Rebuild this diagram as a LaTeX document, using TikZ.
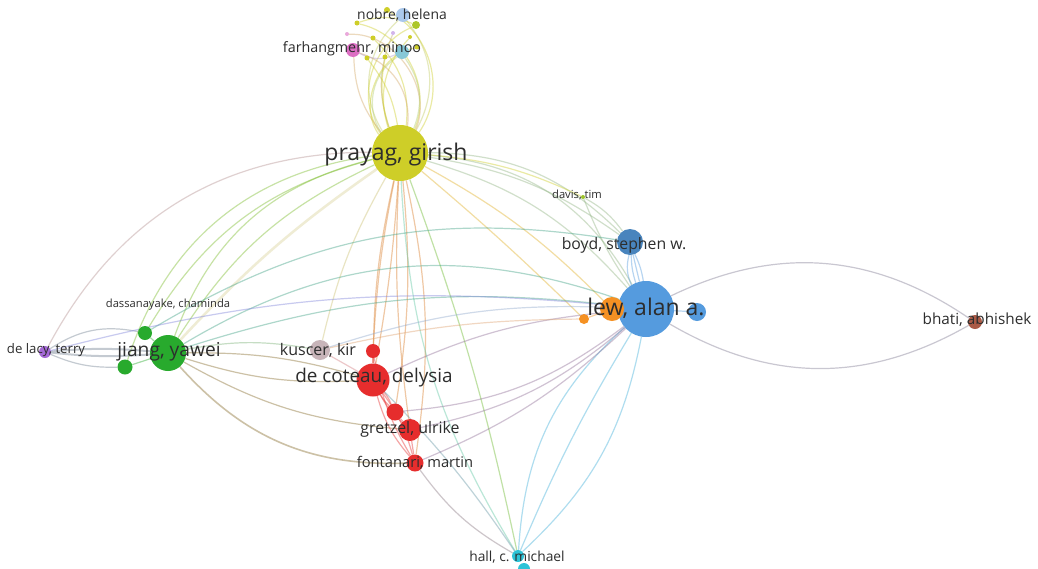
\documentclass[tikz,border=0pt]{standalone}
\usepackage{fontspec}
\setmainfont{Open Sans}
\usetikzlibrary{positioning,backgrounds}

\definecolor{yel}{RGB}{206,206,40}
\definecolor{blu}{RGB}{85,155,222}
\definecolor{grn}{RGB}{40,170,45}
\definecolor{rd}{RGB}{230,45,45}
\definecolor{pur}{RGB}{165,105,215}
\definecolor{org}{RGB}{245,145,35}
\definecolor{brn}{RGB}{170,90,70}
\definecolor{cyn}{RGB}{45,195,215}
\definecolor{gry}{RGB}{200,180,185}
\definecolor{pnk}{RGB}{220,110,195}
\definecolor{lblu}{RGB}{170,200,235}
\definecolor{lcyn}{RGB}{135,200,215}
\definecolor{txt}{RGB}{45,45,45}

\tikzset{
    author/.style = {
        shape=circle,
        inner sep=0pt,
        minimum size=#1
    },
    lbl/.style = {
        text=txt,
        inner sep=0pt,
        font=\fontsize{#1}{#1}\selectfont
    },
    link/.style = {
        line width=1.2pt,
        opacity=0.42
    },
}

\begin{document}
\begin{tikzpicture}[x=1pt, y=-1pt]
                \useasboundingbox (0,0) rectangle (1038,568);

                % authors
                \node[author=56pt, fill=yel] (prayag) at (400,153) {};
                \node[author=56pt, fill=blu] (lew) at (646,309) {};
                \node[author=18pt, fill=blu] (lewb) at (697,312) {};
                \node[author=26pt, fill=blu!85!black] (boyd) at (630,242) {};
                \node[author=24pt, fill=org] (orga) at (612,309) {};
                \node[author=10pt, fill=org] (orgb) at (584,319) {};
                \node[author=4pt, fill=yel!70!grn] (davis) at (583,197) {};
                \node[author=14pt, fill=brn] (bhati) at (975,322) {};
                \node[author=12pt, fill=cyn] (hall) at (518,556) {};
                \node[author=12pt, fill=cyn] (hallb) at (524,569) {};
                \node[author=36pt, fill=grn] (jiang) at (168,353) {};
                \node[author=14pt, fill=grn] (jianga) at (145,333) {};
                \node[author=15pt, fill=grn] (jiangb) at (125,367) {};
                \node[author=12pt, fill=pur] (delacy) at (45,352) {};
                \node[author=20pt, fill=gry] (kuscer) at (320,350) {};
                \node[author=14pt, fill=rd] (reda) at (373,351) {};
                \node[author=33pt, fill=rd] (decoteau) at (373,380) {};
                \node[author=17pt, fill=rd] (redb) at (395,412) {};
                \node[author=22pt, fill=rd] (gretzel) at (410,430) {};
                \node[author=17pt, fill=rd] (fontanari) at (415,463) {};
                \node[author=14pt, fill=lblu] (nobre) at (403,15) {};
                \node[author=14pt, fill=pnk] (farhang) at (353,50) {};
                \node[author=14pt, fill=lcyn] (topc) at (402,52) {};
                \node[author=6pt, fill=yel] (topa) at (387,10) {};
                \node[author=8pt, fill=yel!80!grn] (topb) at (416,25) {};
                \node[author=5pt, fill=yel] (topd) at (357,23) {};
                \node[author=4pt, fill=pnk!60] (tope) at (347,34) {};
                \node[author=5pt, fill=yel] (topf) at (373,38) {};
                \node[author=4pt, fill=pur!50] (topg) at (393,33) {};
                \node[author=5pt, fill=yel] (toph) at (367,58) {};
                \node[author=5pt, fill=yel] (topi) at (385,57) {};
                \node[author=5pt, fill=yel] (topj) at (417,47) {};
                \node[author=4pt, fill=yel] (topk) at (410,37) {};

                % labels
                \node[lbl=23] (prayag-t) at (396,155) {prayag, girish};
                \node[lbl=23] (lew-t) at (646,308) {lew, alan a.};
                \node[lbl=15.8] (boyd-t) at (624,245) {boyd, stephen w.};
                \node[lbl=11.2] (davis-t) at (577,195) {davis, tim};
                \node[lbl=15.3] (bhati-t) at (977,320) {bhati, abhishek};
                \node[lbl=13.8] (hall-t) at (517,557) {hall, c. michael};
                \node[lbl=19.2] (jiang-t) at (169,352) {jiang, yawei};
                \node[lbl=11.2] (dassa-t) at (168,305) {dassanayake, chaminda};
                \node[lbl=13.2] (delacy-t) at (46,350) {de lacy, terry};
                \node[lbl=16] (kuscer-t) at (318,350) {kuscer, kir};
                \node[lbl=18.9] (decoteau-t) at (374,378) {de coteau, delysia};
                \node[lbl=15.9] (gretzel-t) at (410,429) {gretzel, ulrike};
                \node[lbl=14.7] (fontanari-t) at (415,463) {fontanari, martin};
                \node[lbl=13.9] (nobre-t) at (402,15) {nobre, helena};
                \node[lbl=14.3] (farhang-t) at (352,49) {farhangmehr, minoo};

                \begin{scope}[on background layer]
                \fill[white] (0,0) rectangle (1038,568);

                % prayag to the top group
                \path[draw, link, color=yel!70!lblu] (prayag) to[bend left=40] (nobre);
                \path[draw, link, color=yel!70!lblu] (prayag) to[bend right=34] (nobre);
                \path[draw, link, color=yel] (prayag) to[bend right=48] (topa);
                \path[draw, link, color=yel] (prayag) to[bend left=52] (topb);
                \path[draw, link, color=yel] (prayag) to[bend right=50] (topd);
                \path[draw, link, color=yel!60!pnk] (prayag) to[bend right=58] (tope);
                \path[draw, link, color=yel] (prayag) to[bend right=26] (topf);
                \path[draw, link, color=yel!60!pur] (prayag) to[bend left=20] (topg);
                \path[draw, link, color=yel!60!pnk] (prayag) to[bend right=40] (farhang);
                \path[draw, link, color=yel!60!pnk] (prayag) to[bend left=18] (farhang);
                \path[draw, link, color=yel!60!lcyn] (prayag) to[bend left=44] (topc);
                \path[draw, link, color=yel!60!lcyn] (prayag) to[bend right=28] (topc);
                \path[draw, link, color=yel] (prayag) to[bend right=14] (toph);
                \path[draw, link, color=yel] (prayag) to[bend left=14] (topi);
                \path[draw, link, color=yel] (prayag) to[bend left=58] (topj);
                \path[draw, link, color=yel] (prayag) to[bend left=30] (topk);
                \path[draw, link, color=pnk!50!lcyn] (farhang) to[bend right=25] (topc);
                \path[draw, link, color=yel] (topd) to[bend left=20] (topb);

                % prayag to the rest
                \path[draw, link, color=yel!50!grn] (prayag) to[bend right=28] (jiang);
                \path[draw, link, color=yel!50!grn] (prayag) to[bend right=16] (jiang);
                \path[draw, link, line width=2.5pt, opacity=0.3, color=yel!50!gry] (prayag) to[bend right=6] (jiang);
                \path[draw, link, color=yel!50!grn] (prayag) to[bend right=22] (jianga);
                \path[draw, link, color=yel!50!grn] (prayag) to[bend right=32] (jiangb);
                \path[draw, link, color=yel!40!pur] (prayag) to[bend right=31] (delacy);
                \path[draw, link, color=yel!50!gry] (prayag) to[bend right=8] (kuscer);
                \path[draw, link, color=yel!50!rd] (prayag) to[bend right=4] (reda);
                \path[draw, link, color=yel!50!rd] (prayag) to[bend left=3] (decoteau);
                \path[draw, link, color=yel!50!rd] (prayag) to[bend right=6] (decoteau);
                \path[draw, link, color=yel!50!rd] (prayag) to[bend left=7] (redb);
                \path[draw, link, color=yel!50!rd] (prayag) to[bend right=5] (gretzel);
                \path[draw, link, color=yel!50!rd] (prayag) to[bend left=10] (fontanari);
                \path[draw, link, color=yel!50!blu] (prayag) to[bend left=22] (boyd);
                \path[draw, link, color=yel!50!blu] (prayag) to[bend left=13] (boyd);
                \path[draw, link, color=yel!50!blu] (prayag) to[bend left=16] (lew);
                \path[draw, link, color=yel!50!blu] (prayag) to[bend left=28] (lew);
                \path[draw, link, color=yel!50!org] (prayag) to[bend left=8] (orga);
                \path[draw, link, color=yel!50!org] (prayag) to[bend left=2] (orgb);
                \path[draw, link, color=yel] (prayag) to[bend left=10] (davis);
                \path[draw, link, color=yel!40!grn] (prayag) to[bend left=4] (hall);
                \path[draw, link, color=yel!30!cyn] (prayag) to[bend right=14] (hall);

                % boyd and lew
                \path[draw, link, color=blu] (boyd) to[bend left=8] (lew);
                \path[draw, link, color=blu] (boyd) -- (lew);
                \path[draw, link, color=blu] (boyd) to[bend right=8] (lew);
                \path[draw, link, color=blu] (boyd) to[bend right=18] (lew);
                \path[draw, link, color=yel!50!blu] (davis) to[bend left=12] (boyd);
                \path[draw, link, color=yel!50!blu] (davis) to[bend right=6] (lew);
                \path[draw, link, color=blu] (lew) -- (lewb);
                \path[draw, link, color=blu!50!brn] (lew) to[bend left=30] (bhati);
                \path[draw, link, color=blu!50!brn] (lew) to[bend right=30] (bhati);
                \path[draw, link, color=blu!50!cyn] (lew) to[bend right=22] (hall);
                \path[draw, link, color=blu!50!cyn] (lew) to[bend left=18] (hall);
                \path[draw, link, color=blu!50!cyn] (lew) to[bend right=4] (hall);
                \path[draw, link, color=org] (orgb) -- (orga);
                \path[draw, link, color=org!50!blu] (orga) -- (lew);

                % jiang and de lacy
                \path[draw, link, line width=2pt, color=grn!40!pur] (jiang) to[bend right=5] (delacy);
                \path[draw, link, line width=2pt, color=grn!40!pur] (jiang) to[bend left=5] (delacy);
                \path[draw, link, color=grn!40!pur] (jianga) to[bend right=22] (delacy);
                \path[draw, link, color=grn!40!pur] (jiangb) to[bend left=12] (delacy);
                \path[draw, link, color=grn] (jiang) -- (jianga);
                \path[draw, link, color=grn] (jiang) -- (jiangb);
                \path[draw, link, color=grn!50!gry] (jiang) to[bend left=10] (kuscer);
                \path[draw, link, color=grn!50!rd] (jiang) to[bend left=8] (decoteau);
                \path[draw, link, color=grn!50!rd] (jiang) to[bend right=10] (decoteau);
                \path[draw, link, color=grn!50!rd] (jiang) to[bend right=12] (gretzel);
                \path[draw, link, line width=1.6pt, color=grn!50!rd] (jiang) to[bend right=25] (fontanari);
                \path[draw, link, color=grn!50!blu] (jiang) to[bend left=25] (lew);
                \path[draw, link, color=grn!50!blu] (jiang) to[bend left=12] (lew);
                \path[draw, link, color=grn!50!blu] (jianga) to[bend left=20] (boyd);
                \path[draw, link, color=pur!50!blu] (delacy) to[bend left=10] (lew);

                % red group
                \path[draw, link, color=rd] (reda) -- (decoteau);
                \path[draw, link, color=rd] (decoteau) to[bend left=8] (redb);
                \path[draw, link, color=rd] (decoteau) to[bend right=8] (redb);
                \path[draw, link, color=rd] (redb) -- (gretzel);
                \path[draw, link, color=rd] (decoteau) to[bend right=10] (gretzel);
                \path[draw, link, color=rd] (gretzel) -- (fontanari);
                \path[draw, link, color=rd] (decoteau) to[bend left=10] (fontanari);
                \path[draw, link, color=rd] (decoteau) to[bend right=12] (fontanari);
                \path[draw, link, color=rd] (reda) to[bend right=10] (fontanari);
                \path[draw, link, color=gry!60!rd] (kuscer) -- (decoteau);
                \path[draw, link, color=rd!50!cyn] (fontanari) to[bend right=12] (hall);
                \path[draw, link, color=rd!30!cyn] (decoteau) to[bend left=5] (hall);
                \path[draw, link, color=rd!40!blu] (decoteau) to[bend left=10] (lew);
                \path[draw, link, color=rd!40!blu] (redb) to[bend right=16] (lew);
                \path[draw, link, color=rd!40!blu] (gretzel) to[bend right=14] (lew);
                \path[draw, link, color=rd!40!blu] (fontanari) to[bend right=10] (lew);
                \path[draw, link, color=gry!50!blu] (kuscer) to[bend left=10] (lew);
                \path[draw, link, color=org!50!gry] (orgb) to[bend right=6] (kuscer);
                \end{scope}
            \end{tikzpicture}
\end{document}
